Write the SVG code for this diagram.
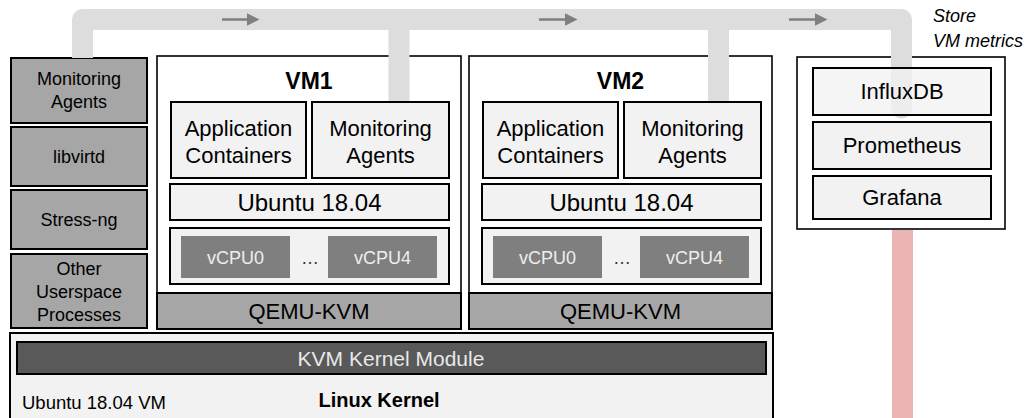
<svg xmlns="http://www.w3.org/2000/svg" width="1026" height="418" viewBox="0 0 1026 418">
<defs>
<style>
text{font-family:"Liberation Sans",Arial,sans-serif;fill:#000;text-anchor:middle}
.side{fill:#a6a6a6;stroke:#000;stroke-width:2}
.light{fill:#f2f2f2;stroke:#000;stroke-width:2}
.outer{fill:#fff;stroke:#000;stroke-width:1.6}
.cpu{fill:#7f7f7f}
.t18{font-size:18px}
.t21{font-size:22px}
.os{font-size:24px}
.cput{font-size:18px;fill:#eeeeee}
.title{font-size:23px;font-weight:bold}
.bar{fill:none;stroke:#dddddd;stroke-width:21}
.arr{stroke:#7f7f7f;stroke-width:2.5;marker-end:url(#ah)}
</style>
<marker id="ah" markerWidth="5" markerHeight="5" refX="0" refY="2.5" orient="auto" markerUnits="strokeWidth">
<path d="M0,0 L5,2.5 L0,5 Z" fill="#7f7f7f"/>
</marker>
</defs>
<rect width="1026" height="418" fill="#fff"/>

<g id="host-userspace">
<g id="mon-agents-host"><rect class="side" x="11" y="58" width="136" height="65"/><text class="t18" x="79" y="85">Monitoring</text><text class="t18" x="79" y="108">Agents</text></g>
<g id="libvirtd"><rect class="side" x="11" y="127" width="136" height="59"/><text class="t18" x="79" y="163">libvirtd</text></g>
<g id="stress-ng"><rect class="side" x="11" y="190" width="136" height="59"/><text class="t18" x="79" y="226">Stress-ng</text></g>
<g id="other"><rect class="side" x="11" y="254" width="136" height="74"/><text class="t18" x="79" y="275">Other</text><text class="t18" x="79" y="298">Userspace</text><text class="t18" x="79" y="321">Processes</text></g>
</g>

<g id="vm1">
<rect class="outer" x="157" y="56" width="304" height="273"/>
<rect class="side" x="157" y="293" width="304" height="36"/>
<text class="t21" x="309" y="319">QEMU-KVM</text>
<text class="title" x="309" y="89">VM1</text>
</g>
<g id="vm2">
<rect class="outer" x="469" y="56" width="303" height="273"/>
<rect class="side" x="469" y="293" width="303" height="36"/>
<text class="t21" x="620.5" y="319">QEMU-KVM</text>
<text class="title" x="620.5" y="89">VM2</text>
</g>
<g id="store">
<rect class="outer" x="797" y="57" width="208" height="172"/>
<text x="933" y="22" style="font-size:18px;font-style:italic;text-anchor:start">Store</text>
<text x="933" y="47" style="font-size:18px;font-style:italic;text-anchor:start">VM metrics</text>
</g>

<g id="kernel">
<rect class="light" x="10" y="333" width="763" height="90"/>
<g id="kvm-module"><rect x="17" y="342" width="749" height="32" fill="#595959" stroke="#000" stroke-width="2"/><text x="391" y="365.5" style="font-size:21px;fill:#e8e8e8">KVM Kernel Module</text></g>
<text x="22" y="409" style="font-size:18.5px;text-anchor:start">Ubuntu 18.04 VM</text>
<text x="379" y="407" style="font-size:20px;font-weight:bold">Linux Kernel</text>
</g>

<g id="connectors">
<polyline class="bar" stroke-linejoin="round" stroke-linecap="round" points="82.5,47 82.5,19.5 901.5,19.5 901.5,108"/>
<line class="bar" x1="82.5" y1="40" x2="82.5" y2="58"/>
<line class="bar" x1="399" y1="19.5" x2="399" y2="102"/>
<line class="bar" x1="718.5" y1="19.5" x2="718.5" y2="102"/>
<line x1="902.5" y1="230" x2="902.5" y2="418" stroke="#ebb5b5" stroke-width="21"/>
<line class="arr" x1="222" y1="19.5" x2="247" y2="19.5"/>
<line class="arr" x1="539" y1="19.5" x2="565" y2="19.5"/>
<line class="arr" x1="789" y1="19.5" x2="815" y2="19.5"/>
</g>

<g id="vm1-inner">
<g id="vm1-app"><rect class="light" x="171" y="102" width="135" height="76"/><text class="t21" x="238.5" y="136">Application</text><text class="t21" x="238.5" y="163">Containers</text></g>
<g id="vm1-mon"><rect class="light" x="312" y="102" width="137" height="76"/><text class="t21" x="380.5" y="136">Monitoring</text><text class="t21" x="380.5" y="163">Agents</text></g>
<g id="vm1-os"><rect class="light" x="170" y="184" width="279" height="36"/><text class="os" x="309.5" y="211">Ubuntu 18.04</text></g>
<g id="vm1-cpus"><rect class="light" x="170" y="228" width="279" height="56"/>
<rect class="cpu" x="181" y="236" width="109" height="42"/><text class="cput" x="235.5" y="264">vCPU0</text>
<text class="t18" x="310" y="264" style="fill:#333">…</text>
<rect class="cpu" x="328" y="236" width="109" height="42"/><text class="cput" x="382.5" y="264">vCPU4</text></g>
</g>
<g id="vm2-inner">
<g id="vm2-app"><rect class="light" x="483" y="102" width="135" height="76"/><text class="t21" x="550.5" y="136">Application</text><text class="t21" x="550.5" y="163">Containers</text></g>
<g id="vm2-mon"><rect class="light" x="624" y="102" width="137" height="76"/><text class="t21" x="692.5" y="136">Monitoring</text><text class="t21" x="692.5" y="163">Agents</text></g>
<g id="vm2-os"><rect class="light" x="482" y="184" width="279" height="36"/><text class="os" x="621.5" y="211">Ubuntu 18.04</text></g>
<g id="vm2-cpus"><rect class="light" x="482" y="228" width="279" height="56"/>
<rect class="cpu" x="493" y="236" width="109" height="42"/><text class="cput" x="547.5" y="264">vCPU0</text>
<text class="t18" x="622" y="264" style="fill:#333">…</text>
<rect class="cpu" x="640" y="236" width="109" height="42"/><text class="cput" x="694.5" y="264">vCPU4</text></g>
</g>
<g id="store-inner">
<g id="influxdb"><rect class="light" x="813" y="68" width="178" height="47" style="fill-opacity:0.75"/><text class="t21" x="902" y="99">InfluxDB</text></g>
<g id="prometheus"><rect class="light" x="813" y="122" width="178" height="47"/><text class="t21" x="902" y="153">Prometheus</text></g>
<g id="grafana"><rect class="light" x="813" y="176" width="178" height="43"/><text class="t21" x="902" y="205">Grafana</text></g>
</g>
</svg>
